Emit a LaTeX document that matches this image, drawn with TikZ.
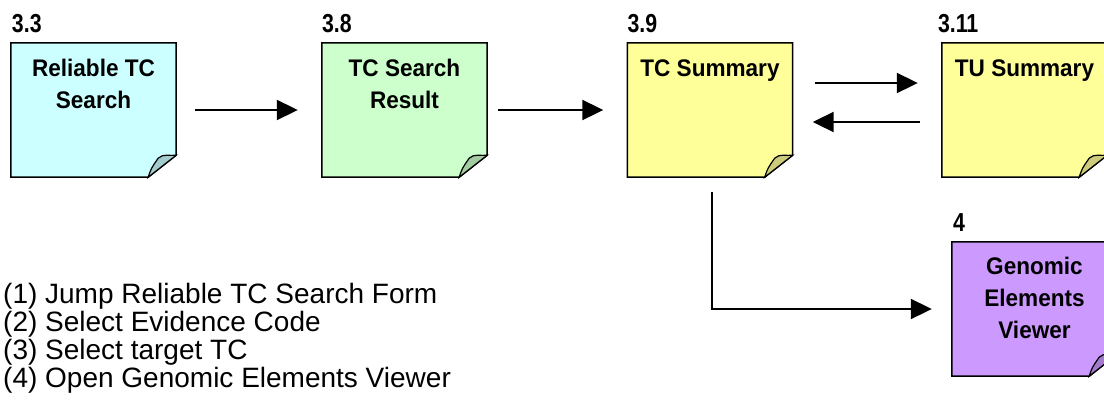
\documentclass[tikz,border=0pt]{standalone}
\usepackage{fontspec}
\setmainfont{Liberation Sans}
\newfontfamily\notefont[FakeStretch=0.94]{Liberation Sans}
\newfontfamily\tagfont[FakeStretch=0.82]{Liberation Sans}
\usetikzlibrary{arrows.meta}

\definecolor{cyanfill}{RGB}{204,255,255}
\definecolor{cyanflap}{RGB}{163,204,204}
\definecolor{greenfill}{RGB}{204,255,204}
\definecolor{greenflap}{RGB}{163,204,163}
\definecolor{yellowfill}{RGB}{255,255,153}
\definecolor{yellowflap}{RGB}{204,204,122}
\definecolor{purplefill}{RGB}{204,153,255}
\definecolor{purpleflap}{RGB}{163,122,204}

\tikzset{
  note/.style={rectangle, draw=none, inner sep=0pt,
    minimum width=165bp, minimum height=134bp},
  notebody/.style={draw=black, line width=1.5bp, line join=miter},
  notetext/.style={inner sep=0pt, align=center,
    font=\notefont\bfseries\fontsize{24bp}{32bp}\selectfont},
  tag/.style={inner sep=0pt, anchor=base west,
    font=\tagfont\bfseries\fontsize{26bp}{28bp}\selectfont},
  steptext/.style={inner sep=0pt, anchor=base west,
    font=\fontsize{28bp}{28bp}\selectfont},
  arr/.style={line width=2bp, -{Triangle[length=21bp,width=20bp]}},
}

% sticky note outline with a curled lower right corner
\newcommand\stickynote[3]{%
  \path[notebody, fill=#2]
    (#1.north west) -- (#1.north east)
    -- ([yshift=22bp]#1.south east)
    -- ([xshift=-28bp]#1.south east)
    -- (#1.south west) -- cycle;
  \path[notebody, line width=1.2bp, fill=#3]
    ([xshift=-28bp]#1.south east)
    .. controls ([shift={(-25bp,9bp)}]#1.south east) .. ([shift={(-18bp,19bp)}]#1.south east)
    .. controls ([shift={(-13bp,24bp)}]#1.south east) and ([shift={(-6bp,21bp)}]#1.south east)
    .. ([yshift=22bp]#1.south east) -- cycle;
}

\begin{document}
\begin{tikzpicture}[x=1bp, y=-1bp]
\useasboundingbox (0,0) rectangle (1104,403);
\fill[white] (0,0) rectangle (1104,403);

% note anchors
\node[note] (n1) at (93.5,110) {};
\node[note] (n2) at (404.5,110) {};
\node[note] (n3) at (710,110) {};
\node[note] (n4) at (1024.5,110) {};
\node[note] (n5) at (1034.5,309) {};

\stickynote{n1}{cyanfill}{cyanflap}
\stickynote{n2}{greenfill}{greenflap}
\stickynote{n3}{yellowfill}{yellowflap}
\stickynote{n4}{yellowfill}{yellowflap}
\stickynote{n5}{purplefill}{purpleflap}

% note texts
\node[notetext, anchor=north] (t1) at ([yshift=-16.5bp]n1.north) {Reliable TC\\Search};
\node[notetext, anchor=north] (t2) at ([yshift=-16.5bp]n2.north) {TC Search\\Result};
\node[notetext, anchor=north] (t3) at ([yshift=-16.5bp]n3.north) {TC Summary};
\node[notetext, anchor=north] (t4) at ([yshift=-16.5bp]n4.north) {TU Summary};
\node[notetext, anchor=north] (t5) at ([yshift=-15.5bp]n5.north) {Genomic\\Elements\\Viewer};

% screen numbers
\node[tag] (g1) at ([shift={(1bp,10bp)}]n1.north west) {3.3};
\node[tag] (g2) at ([shift={(0bp,10bp)}]n2.north west) {3.8};
\node[tag] (g3) at ([shift={(0bp,10bp)}]n3.north west) {3.9};
\node[tag] (g4) at ([shift={(-4bp,10bp)}]n4.north west) {3.11};
\node[tag] (g5) at ([shift={(1bp,10bp)}]n5.north west) {4};

% transitions
\draw[arr] ([xshift=19bp]n1.east) -- ([xshift=-24bp]n2.west);
\draw[arr] ([xshift=11bp]n2.east) -- ([xshift=-24bp]n3.west);
\draw[arr] ([shift={(22bp,27bp)}]n3.east) -- ([shift={(-24bp,27bp)}]n4.west);
\draw[arr] ([shift={(-22bp,-12bp)}]n4.west) -- ([shift={(20bp,-12bp)}]n3.east);
\draw[arr] ([shift={(2bp,-15bp)}]n3.south) |- ([xshift=-20bp]n5.west);

% step list
\node[steptext] (s1) at (3,303) {(1) Jump Reliable TC Search Form};
\node[steptext] (s2) at (3,331) {(2) Select Evidence Code};
\node[steptext] (s3) at (3,359) {(3) Select target TC};
\node[steptext] (s4) at (3,387) {(4) Open Genomic Elements Viewer};
\end{tikzpicture}
\end{document}
